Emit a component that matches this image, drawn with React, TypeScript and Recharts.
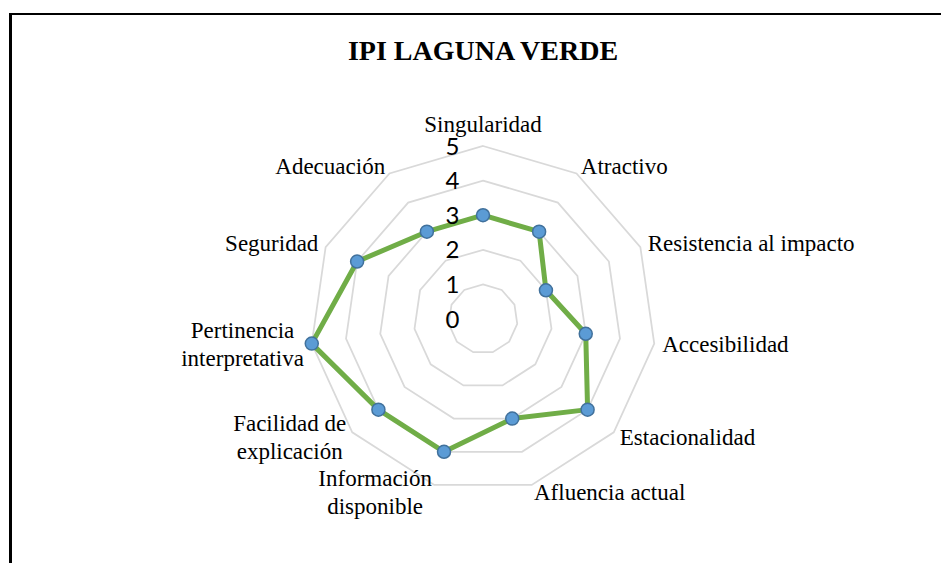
import React from 'react';
import {
  RadarChart,
  Radar,
  PolarGrid,
  PolarAngleAxis,
  PolarRadiusAxis
} from 'recharts';

const categories = [
  'Singularidad',
  'Atractivo',
  'Resistencia al impacto',
  'Accesibilidad',
  'Estacionalidad',
  'Afluencia actual',
  'Información\ndisponible',
  'Facilidad de\nexplicación',
  'Pertinencia\ninterpretativa',
  'Seguridad',
  'Adecuación'
];
const values = [3, 3, 2, 3, 4, 3, 4, 4, 5, 4, 3];
const radiusDomain = [0, 5];

const data = categories.map((name, i) => ({ name, value: values[i] }));

const SERIF = "'Liberation Serif', 'Times New Roman', serif";
const LABEL_SIZE = 23;
const LINE_H = 27.5;

let ctx: CanvasRenderingContext2D | null = null;
const measure = (s: string) => {
  if (!ctx) ctx = document.createElement('canvas').getContext('2d');
  if (!ctx) return s.length * 10;
  ctx.font = `${LABEL_SIZE}px 'Liberation Serif'`;
  return ctx.measureText(s).width;
};

// category labels: lines centred in their block, block placed beside the vertex
const AngleTick = ({ x, y, textAnchor, payload }: any) => {
  const lines = String(payload.value).split('\n');
  const w = Math.max(...lines.map(measure));
  let mid = x;
  if (textAnchor === 'start') mid = x + w / 2;
  else if (textAnchor === 'end') mid = x - w / 2;
  const first =
    textAnchor === 'middle'
      ? y - 0.25 * LABEL_SIZE - (lines.length - 1) * LINE_H
      : y + 0.32 * LABEL_SIZE - ((lines.length - 1) * LINE_H) / 2;
  return (
    <text fill="#000" fontFamily={SERIF} fontSize={LABEL_SIZE} textAnchor="middle">
      {lines.map((l, i) => (
        <tspan key={i} x={mid} y={first + i * LINE_H}>
          {l}
        </tspan>
      ))}
    </text>
  );
};

const RadiusTick = ({ x, y, payload }: any) => (
  <text
    x={x - 23.5}
    y={y}
    dy="0.36em"
    textAnchor="end"
    fontFamily="Lato, 'Open Sans', sans-serif"
    fontSize={24}
    fill="#000"
  >
    {payload.value}
  </text>
);

const renderDot = ({ cx, cy, index }: any) => (
  <circle
    key={`dot-${index}`}
    cx={cx}
    cy={cy}
    r={6.5}
    fill="#5B9BD5"
    stroke="#41719C"
    strokeWidth={1.5}
  />
);

const App = () => {
  return (
    <div
      style={{
        position: 'fixed',
        left: 0,
        top: 0,
        width: 941,
        height: 563,
        overflow: 'hidden',
        background: '#fff'
      }}
    >
      <div
        style={{
          position: 'absolute',
          left: 9,
          top: 13,
          width: 1000,
          height: 600,
          borderTop: '2px solid #000',
          borderLeft: '3px solid #000'
        }}
      />
      <svg
        width={941}
        height={80}
        style={{ position: 'absolute', left: 0, top: 0 }}
      >
        <text
          x={483}
          y={59.5}
          textAnchor="middle"
          fontFamily={SERIF}
          fontWeight="bold"
          fontSize={28}
          fill="#000"
        >
          IPI LAGUNA VERDE
        </text>
      </svg>
      <div style={{ position: 'absolute', left: 0, top: 0 }}>
        <RadarChart
          width={941}
          height={563}
          data={data}
          cx={483}
          cy={319}
          outerRadius={173}
          margin={{ top: 0, right: 0, bottom: 0, left: 0 }}
        >
          <PolarGrid
            gridType="polygon"
            radialLines={false}
            stroke="#d9d9d9"
            strokeWidth={1.75}
          />
          <PolarAngleAxis
            dataKey="name"
            axisLine={false}
            tickLine={false}
            tick={<AngleTick />}
          />
          <PolarRadiusAxis
            angle={90}
            type="number"
            domain={radiusDomain}
            tickCount={6}
            axisLine={false}
            tickLine={false}
            tick={<RadiusTick />}
          />
          <Radar
            dataKey="value"
            stroke="#70AD47"
            strokeWidth={5}
            strokeLinejoin="round"
            fill="none"
            fillOpacity={0}
            dot={renderDot}
            isAnimationActive={false}
          />
        </RadarChart>
      </div>
    </div>
  );
};

export default App;
